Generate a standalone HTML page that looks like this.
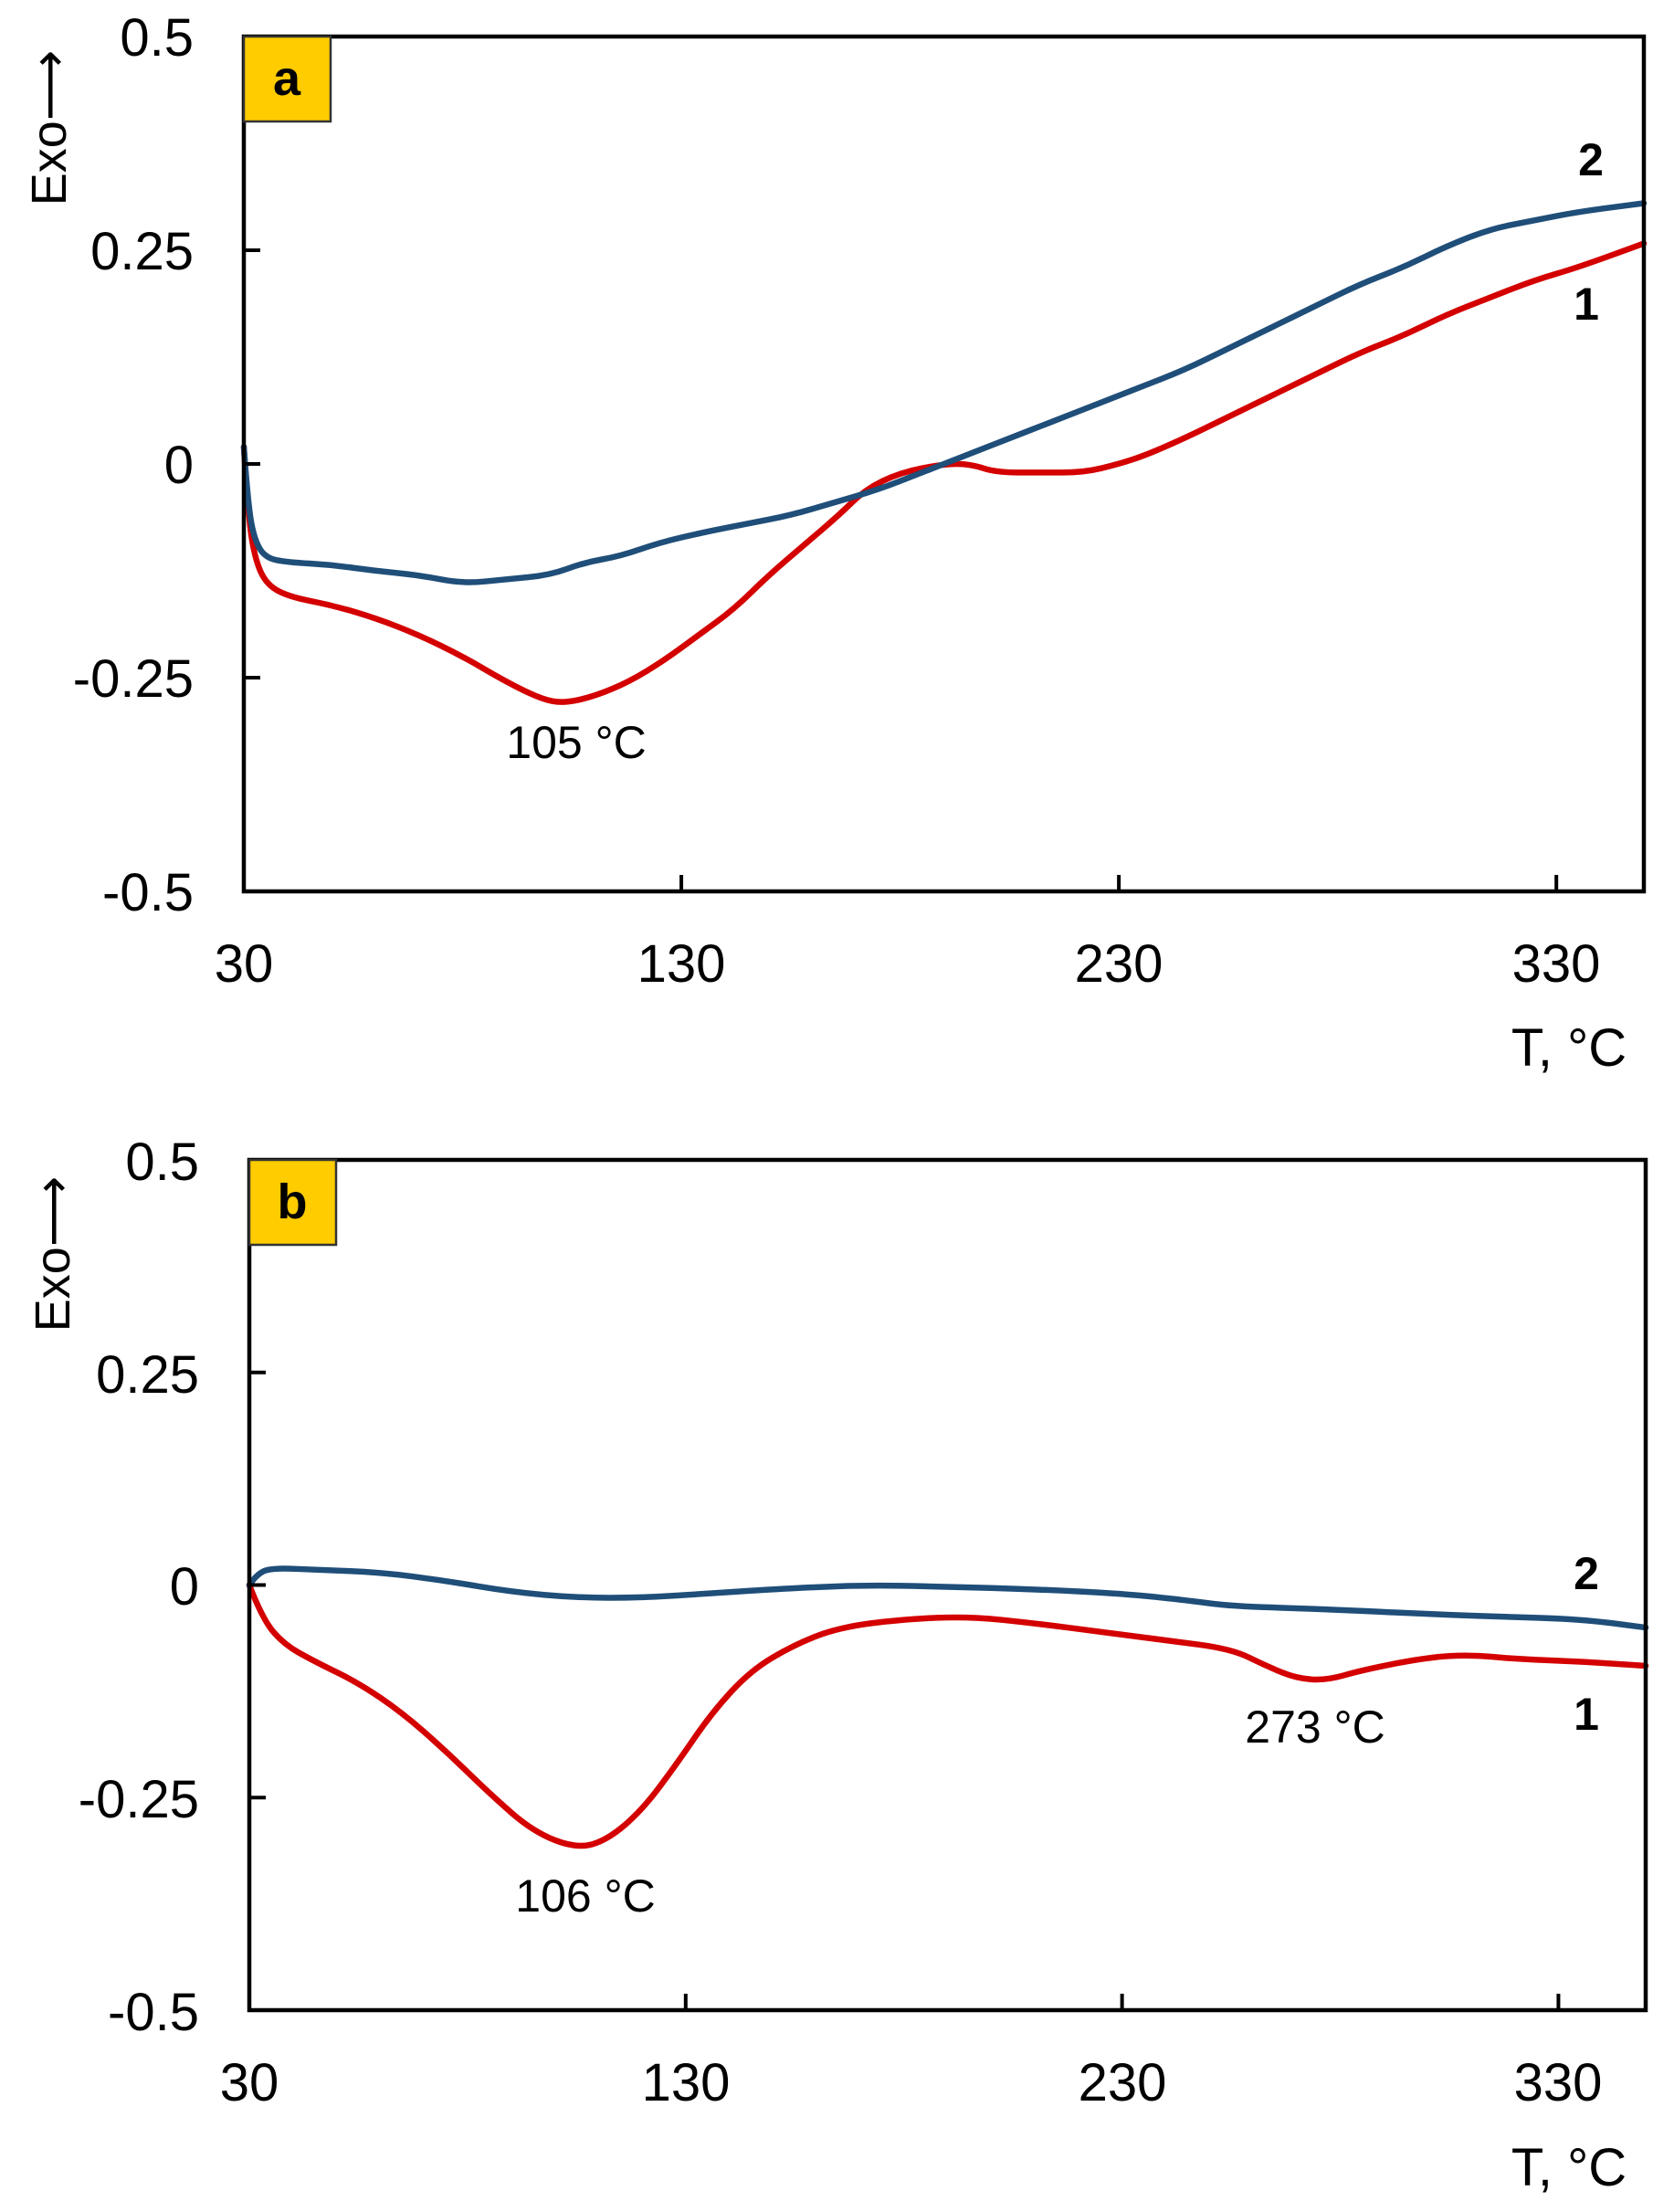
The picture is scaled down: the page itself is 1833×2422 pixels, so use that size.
<!DOCTYPE html>
<html><head><meta charset="utf-8"><style>
html,body{margin:0;padding:0;background:#fff;}
svg{display:block;font-family:"Liberation Sans",Arial,sans-serif;}
</style></head><body>
<svg id="s" width="1833" height="2422" viewBox="0 0 1833 2422" xmlns="http://www.w3.org/2000/svg">
<rect width="1833" height="2422" fill="#fff"/>
<g font-size="58" fill="#000">
<text x="212" y="61" text-anchor="end">0.5</text>
<text x="212" y="295" text-anchor="end">0.25</text>
<text x="212" y="529" text-anchor="end">0</text>
<text x="212" y="763" text-anchor="end">-0.25</text>
<text x="212" y="997" text-anchor="end">-0.5</text>
<text x="267" y="1075" text-anchor="middle">30</text>
<text x="746" y="1075" text-anchor="middle">130</text>
<text x="1225" y="1075" text-anchor="middle">230</text>
<text x="1704" y="1075" text-anchor="middle">330</text>
<text x="1718" y="1167" text-anchor="middle">T, °C</text>
<text transform="translate(72,140) rotate(-90)" text-anchor="middle" font-size="54">Exo⟶</text>
</g>
<g font-size="58" fill="#000">
<text x="218" y="1292" text-anchor="end">0.5</text>
<text x="218" y="1525" text-anchor="end">0.25</text>
<text x="218" y="1757" text-anchor="end">0</text>
<text x="218" y="1990" text-anchor="end">-0.25</text>
<text x="218" y="2223" text-anchor="end">-0.5</text>
<text x="273" y="2300" text-anchor="middle">30</text>
<text x="751" y="2300" text-anchor="middle">130</text>
<text x="1229" y="2300" text-anchor="middle">230</text>
<text x="1706" y="2300" text-anchor="middle">330</text>
<text x="1718" y="2393" text-anchor="middle">T, °C</text>
<text transform="translate(76,1373) rotate(-90)" text-anchor="middle" font-size="54">Exo⟶</text>
</g>
<g id="plots"></g>
</svg>
<script>
var NS="http://www.w3.org/2000/svg";
var g=document.getElementById("plots");
function el(t,a,txt){var e=document.createElementNS(NS,t);for(var k in a)e.setAttribute(k,a[k]);if(txt)e.textContent=txt;g.appendChild(e);return e;}
function panel(P){
 var X=function(t){return P.x0+(t-30)*(P.x1-P.x0)/320;};
 var Y=function(v){return P.y0+(0.5-v)*(P.y1-P.y0);};
 P.series.forEach(function(s){
  var pts=s.d.map(function(p){return [X(p[0]),Y(p[1])];});
  var d="M"+pts[0][0]+","+pts[0][1];
  for(var i=1;i<pts.length-1;i++){
   var mx=(pts[i][0]+pts[i+1][0])/2,my=(pts[i][1]+pts[i+1][1])/2;
   d+=" Q"+pts[i][0]+","+pts[i][1]+" "+mx+","+my;
  }
  var l=pts[pts.length-1];d+=" L"+l[0]+","+l[1];
  el("path",{d:d,fill:"none",stroke:s.c,"stroke-width":6.5,"stroke-linejoin":"round","stroke-linecap":"round"});
 });
 el("rect",{x:P.x0,y:P.y0,width:P.x1-P.x0,height:P.y1-P.y0,fill:"none",stroke:"#000","stroke-width":4.5});
 [0.25,0,-0.25].forEach(function(v){el("line",{x1:P.x0,x2:P.x0+18,y1:Y(v),y2:Y(v),stroke:"#000","stroke-width":4});});
 [130,230,330].forEach(function(t){el("line",{x1:X(t),x2:X(t),y1:P.y1,y2:P.y1-18,stroke:"#000","stroke-width":4});});
 el("rect",{x:P.x0,y:P.y0,width:95,height:93,fill:"#ffcc00",stroke:"#333","stroke-width":2.5});
 el("text",{x:P.x0+47,y:P.y0+64,"text-anchor":"middle","font-size":54,"font-weight":"bold"},P.lab);
 P.texts.forEach(function(t){el("text",{x:t[0],y:t[1],"text-anchor":"middle","font-size":t[3]||48,"font-weight":t[4]||"normal"},t[2]);});
}
panel({x0:267,x1:1800,y0:40,y1:976,lab:"a",
 series:[
 {c:"#d40000",d:[[30,0.02],[31,-0.06],[32.5,-0.11],[35,-0.14],[40,-0.155],[50,-0.165],[60,-0.18],[70,-0.2],[80,-0.225],[90,-0.255],[98,-0.275],[103,-0.28],[110,-0.272],[118,-0.255],[126,-0.23],[134,-0.2],[142,-0.17],[150,-0.13],[158,-0.095],[166,-0.06],[172,-0.03],[180,-0.01],[190,0.0],[196,0.0],[202,-0.01],[212,-0.01],[222,-0.01],[230,0.0],[236,0.01],[245,0.03],[255,0.055],[265,0.08],[275,0.105],[285,0.13],[295,0.15],[305,0.175],[315,0.195],[325,0.215],[335,0.23],[350,0.258]]},
 {c:"#1f4e79",d:[[30,0.02],[31,-0.05],[32.5,-0.09],[35,-0.11],[40,-0.115],[50,-0.118],[60,-0.125],[70,-0.13],[80,-0.14],[90,-0.135],[100,-0.13],[108,-0.115],[116,-0.108],[125,-0.092],[135,-0.08],[145,-0.07],[155,-0.06],[165,-0.045],[175,-0.03],[185,-0.01],[195,0.01],[205,0.03],[215,0.05],[225,0.07],[235,0.09],[245,0.11],[255,0.135],[265,0.16],[275,0.185],[285,0.21],[295,0.23],[305,0.255],[315,0.275],[325,0.285],[335,0.295],[350,0.305]]}
 ],
 texts:[[631,830,"105 °C",50],[1742,192,"2",50,"bold"],[1737,350,"1",50,"bold"]]
});
panel({x0:273,x1:1802,y0:1270,y1:2201,lab:"b",
 series:[
 {c:"#d40000",d:[[30,0.0],[33,-0.04],[38,-0.07],[45,-0.09],[55,-0.115],[65,-0.15],[75,-0.195],[85,-0.245],[95,-0.29],[105,-0.31],[112,-0.3],[120,-0.265],[128,-0.21],[136,-0.15],[145,-0.1],[155,-0.07],[165,-0.05],[180,-0.04],[195,-0.037],[210,-0.045],[225,-0.055],[240,-0.065],[255,-0.075],[263,-0.095],[270,-0.11],[277,-0.112],[285,-0.1],[300,-0.085],[310,-0.082],[320,-0.087],[335,-0.09],[350,-0.095]]},
 {c:"#1f4e79",d:[[30,0.0],[32,0.015],[36,0.02],[45,0.018],[60,0.015],[75,0.005],[90,-0.008],[105,-0.015],[120,-0.015],[135,-0.01],[150,-0.005],[170,0.0],[190,-0.002],[210,-0.005],[230,-0.01],[245,-0.018],[255,-0.025],[275,-0.028],[295,-0.033],[315,-0.037],[335,-0.04],[350,-0.05]]}
 ],
 texts:[[641,2093,"106 °C",50],[1440,1908,"273 °C",50],[1737,1740,"2",50,"bold"],[1737,1894,"1",50,"bold"]]
});
</script>
</body></html>
